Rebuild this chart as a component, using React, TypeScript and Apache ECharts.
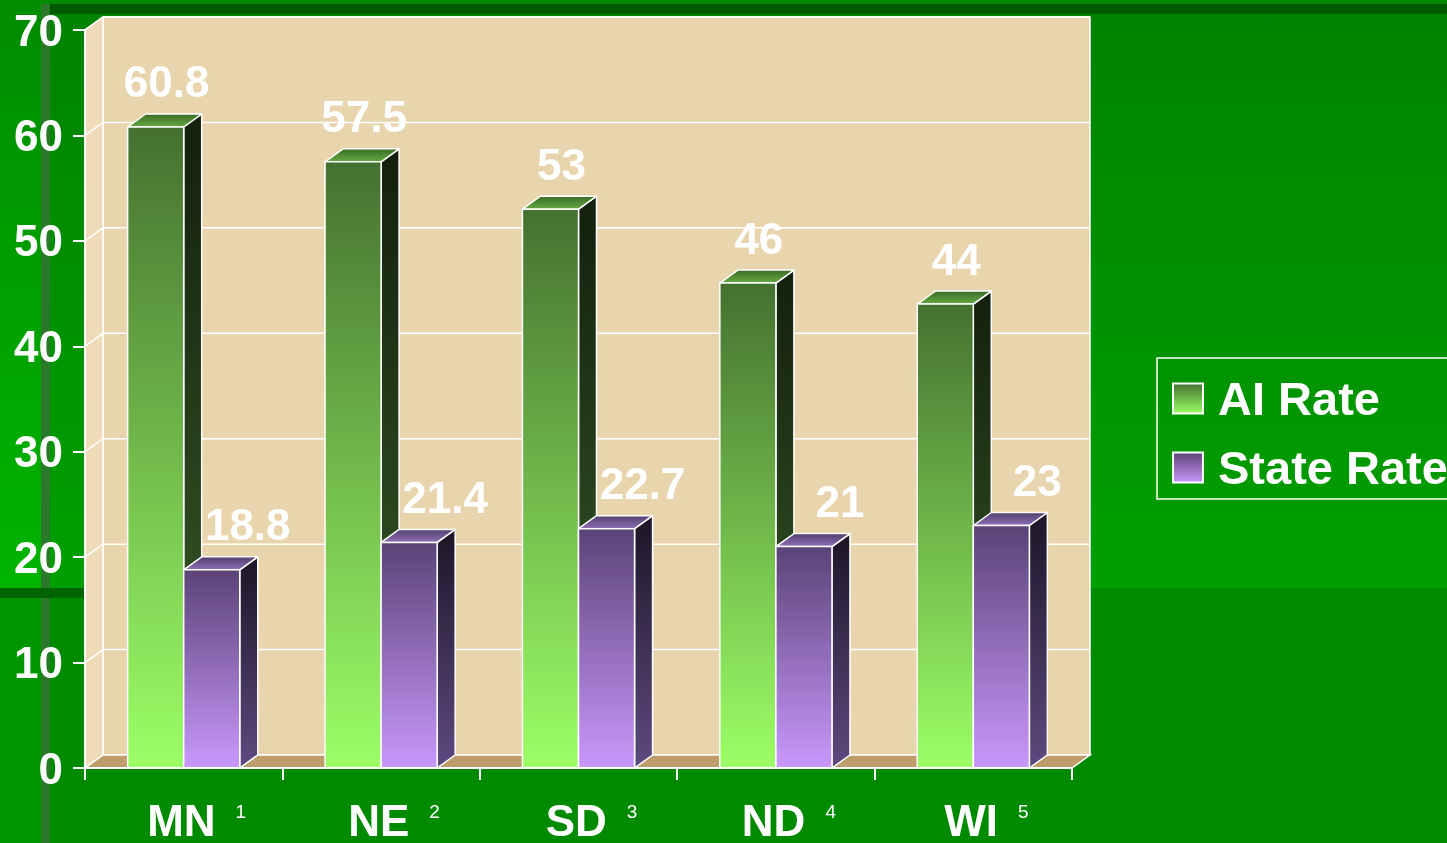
import React, { useEffect, useRef } from 'react';
import * as echarts from 'echarts';

const CATEGORIES = ['MN', 'NE', 'SD', 'ND', 'WI'];
const FOOTNOTES = ['1', '2', '3', '4', '5'];
const AI_RATE = [60.8, 57.5, 53, 46, 44];
const STATE_RATE = [18.8, 21.4, 22.7, 21, 23];
const Y_TICKS = [0, 10, 20, 30, 40, 50, 60, 70];
const SERIES_NAMES = ['AI Rate', 'State Rate'];

const Y_MIN = Y_TICKS[0];
const Y_MAX = Y_TICKS[Y_TICKS.length - 1];
const Y_STEP = Y_TICKS[1] - Y_TICKS[0];

const FONT = '"Liberation Sans", Arial, Helvetica, sans-serif';
const DX = 18;
const DY = 13;
const BAR_FRAC = 0.284;

const lg = (a: string, b: string) => new echarts.graphic.LinearGradient(0, 0, 0, 1, [
  { offset: 0, color: a },
  { offset: 1, color: b },
]);

const STYLES = [
  {
    front: ['#457130', '#9cff66'],
    side: ['#13200d', '#3a5e2a'],
    top: ['#3a6c26', '#66aa42'],
    labelShift: 2,
  },
  {
    front: ['#5b4377', '#c898fc'],
    side: ['#1d1527', '#5e4a80'],
    top: ['#523e6c', '#8e70b8'],
    labelShift: 27,
  },
];

function makeBarRenderer(s: number) {
  return (params: any, api: any) => {
    const idx = api.value(0);
    const val = api.value(1);
    const base = api.coord([idx, 0]);
    const topPt = api.coord([idx, val]);
    const band = api.size([1, 0])[0];
    const w = band * BAR_FRAC;
    const x0 = base[0] + (s === 0 ? -w : 0);
    const x1 = x0 + w;
    const y0 = topPt[1];
    const yb = base[1];
    const st = STYLES[s];
    const stroke = { stroke: '#ffffff', lineWidth: 1.5, lineJoin: 'round' };
    return {
      type: 'group',
      children: [
        {
          type: 'polygon',
          shape: { points: [[x1, yb], [x1 + DX, yb - DY], [x1 + DX, y0 - DY], [x1, y0]] },
          style: { fill: lg(st.side[0], st.side[1]), ...stroke },
        },
        {
          type: 'polygon',
          shape: { points: [[x0, y0], [x0 + DX, y0 - DY], [x1 + DX, y0 - DY], [x1, y0]] },
          style: { fill: lg(st.top[0], st.top[1]), ...stroke },
        },
        {
          type: 'rect',
          shape: { x: x0, y: y0, width: w, height: yb - y0 },
          style: { fill: lg(st.front[0], st.front[1]), ...stroke },
        },
        {
          type: 'text',
          z2: 20,
          style: {
            text: String(val),
            x: (x0 + x1 + DX) / 2 + st.labelShift,
            y: y0 - DY - 10,
            fill: '#ffffff',
            fontSize: 44,
            fontWeight: 'bold',
            fontFamily: FONT,
            align: 'center',
            verticalAlign: 'bottom',
          },
        },
      ],
    };
  };
}

function plotBounds(api: any) {
  const band = api.size([1, 0])[0];
  const first = api.coord([0, Y_MIN]);
  const last = api.coord([CATEGORIES.length - 1, Y_MAX]);
  return {
    left: first[0] - band / 2,
    right: last[0] + band / 2,
    bottom: first[1],
    top: last[1],
  };
}

function renderWalls(params: any, api: any) {
  const { left, right, bottom, top } = plotBounds(api);
  return {
    type: 'group',
    children: [
      {
        type: 'rect',
        shape: { x: left + DX, y: top - DY, width: right - left, height: bottom - top },
        style: { fill: '#e9d5ad', stroke: '#ffffff', lineWidth: 1.5 },
      },
      {
        type: 'polygon',
        shape: { points: [[left, bottom], [left + DX, bottom - DY], [left + DX, top - DY], [left, top]] },
        style: { fill: '#efdbb7', stroke: '#ffffff', lineWidth: 1.5 },
      },
      {
        type: 'polygon',
        shape: { points: [[left, bottom], [left + DX, bottom - DY], [right + DX, bottom - DY], [right, bottom]] },
        style: { fill: '#bf9d6a', stroke: '#ffffff', lineWidth: 1.5 },
      },
    ],
  };
}

function renderGridLine(params: any, api: any) {
  const { left, right } = plotBounds(api);
  const y = api.coord([0, api.value(1)])[1];
  return {
    type: 'polyline',
    shape: { points: [[left, y], [left + DX, y - DY], [right + DX, y - DY]] },
    style: { stroke: '#ffffff', lineWidth: 1.5, fill: null },
  };
}

function buildOption() {
  const W = 1447;
  const H = 843;
  return {
    animation: false,
    graphic: {
      elements: [
        { type: 'rect', z: -10, shape: { x: 0, y: 0, width: W, height: H }, style: { fill: '#008a00' }, silent: true },
        { type: 'rect', z: -9, shape: { x: 50, y: 14, width: W - 50, height: 574 }, style: { fill: lg('#008300', '#009f00') }, silent: true },
        { type: 'rect', z: -9, shape: { x: 0, y: 0, width: 41, height: 588 }, style: { fill: lg('#008c00', '#00b400') }, silent: true },
        { type: 'rect', z: -9, shape: { x: 42, y: 4, width: W - 42, height: 10 }, style: { fill: '#005a00' }, silent: true },
        { type: 'rect', z: -9, shape: { x: 0, y: 598, width: 41, height: H - 598 }, style: { fill: '#009600' }, silent: true },
        { type: 'rect', z: -8, shape: { x: 41, y: 4, width: 9, height: H - 4 }, style: { fill: '#2b782b' }, silent: true },
        { type: 'rect', z: -7, shape: { x: 0, y: 588, width: 100, height: 10 }, style: { fill: '#006400' }, silent: true },
      ],
    },
    grid: { left: 85, top: 30, right: 375, bottom: 75, containLabel: false },
    legend: {
      show: true,
      left: 1157,
      top: 358,
      orient: 'vertical',
      icon: 'rect',
      itemWidth: 30,
      itemHeight: 30,
      itemGap: 22,
      padding: [17, 12, 8, 15],
      borderColor: '#ffffff',
      borderWidth: 1.5,
      selectedMode: false,
      textStyle: {
        color: '#ffffff',
        fontSize: 47,
        fontWeight: 'bold',
        fontFamily: FONT,
        padding: [0, 0, 0, 10],
      },
      data: [
        { name: SERIES_NAMES[0], itemStyle: { color: lg(STYLES[0].front[0], STYLES[0].front[1]), borderColor: '#ffffff', borderWidth: 2 } },
        { name: SERIES_NAMES[1], itemStyle: { color: lg(STYLES[1].front[0], STYLES[1].front[1]), borderColor: '#ffffff', borderWidth: 2 } },
      ],
    },
    xAxis: {
      type: 'category',
      data: CATEGORIES,
      z: 10,
      boundaryGap: true,
      axisLine: { show: true, lineStyle: { color: '#ffffff', width: 2 } },
      axisTick: { show: true, length: 12, lineStyle: { color: '#ffffff', width: 2 } },
      splitLine: { show: false },
      axisLabel: {
        margin: 30,
        formatter: (v: string, i: number) => `{a|${v}}{b|${FOOTNOTES[i]}}`,
        rich: {
          a: { fontSize: 44, fontWeight: 'bold', color: '#ffffff', fontFamily: FONT, padding: [0, 20, 0, 26] },
          b: { fontSize: 19, color: '#ffffff', fontFamily: FONT, verticalAlign: 'top', padding: [4, 0, 0, 0] },
        },
      },
    },
    yAxis: {
      type: 'value',
      min: Y_MIN,
      max: Y_MAX,
      interval: Y_STEP,
      z: 10,
      axisLine: { show: true, lineStyle: { color: '#ffffff', width: 2 } },
      axisTick: { show: true, length: 12, lineStyle: { color: '#ffffff', width: 2 } },
      splitLine: { show: false },
      axisLabel: {
        margin: 22,
        color: '#ffffff',
        fontSize: 44,
        fontWeight: 'bold',
        fontFamily: FONT,
      },
    },
    series: [
      {
        type: 'custom',
        name: 'walls',
        z: 1,
        silent: true,
        renderItem: renderWalls,
        data: [[0, Y_MAX]],
      },
      {
        type: 'custom',
        name: 'gridlines',
        z: 2,
        silent: true,
        renderItem: renderGridLine,
        data: Y_TICKS.filter((t) => t > Y_MIN).map((t) => [0, t]),
      },
      {
        type: 'custom',
        name: SERIES_NAMES[0],
        z: 3,
        silent: true,
        itemStyle: { color: lg(STYLES[0].front[0], STYLES[0].front[1]) },
        renderItem: makeBarRenderer(0),
        data: AI_RATE.map((v, i) => [i, v]),
      },
      {
        type: 'custom',
        name: SERIES_NAMES[1],
        z: 4,
        silent: true,
        itemStyle: { color: lg(STYLES[1].front[0], STYLES[1].front[1]) },
        renderItem: makeBarRenderer(1),
        data: STATE_RATE.map((v, i) => [i, v]),
      },
    ],
  };
}

export default function App() {
  const ref = useRef<HTMLDivElement>(null);
  useEffect(() => {
    if (!ref.current) return;
    const chart = echarts.init(ref.current, null, { renderer: 'svg' });
    chart.setOption(buildOption() as any);
    return () => chart.dispose();
  }, []);
  return (
    <div
      ref={ref}
      style={{ position: 'fixed', left: 0, top: 0, width: 1447, height: 843 }}
    />
  );
}
